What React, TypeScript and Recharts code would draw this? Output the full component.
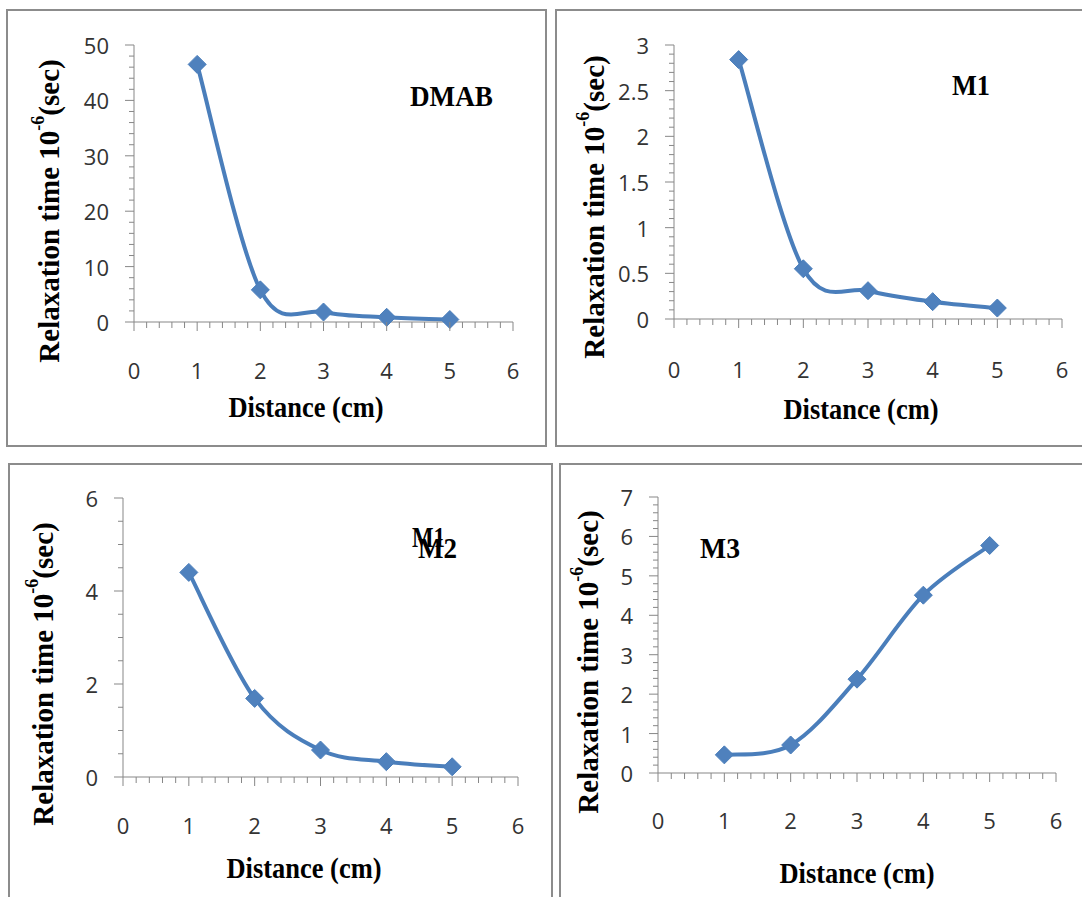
import React from 'react';
import { LineChart, Line, XAxis, YAxis } from 'recharts';

// ---- data ----
const distance = [1, 2, 3, 4, 5];
const dmabValues = [46.5, 5.8, 1.8, 0.85, 0.45];
const m1Values = [2.84, 0.55, 0.31, 0.19, 0.12];
const m2Values = [4.4, 1.69, 0.58, 0.33, 0.22];
const m3Values = [0.46, 0.71, 2.38, 4.51, 5.77];

const xTickLabels = [0, 1, 2, 3, 4, 5, 6];
const dmabTicks = [0, 10, 20, 30, 40, 50];
const m1Ticks = [0, 0.5, 1, 1.5, 2, 2.5, 3];
const m2Ticks = [0, 2, 4, 6];
const m3Ticks = [0, 1, 2, 3, 4, 5, 6, 7];

const xTitle = 'Distance (cm)';
const yTitleMain = 'Relaxation time 10';
const yTitleSup = '-6';
const yTitleEnd = '(sec)';

// ---- styles ----
const AXIS = '#878787';
const LINE = '#4A7EBB';
const MARK = '#4F81BD';
const TICK_TEXT = '#333333';
const TICK_FONT = '"Open Sans", "Liberation Sans", sans-serif';
const SERIF = '"Liberation Serif", "Times New Roman", serif';

function buildTicks(majors: number[], divisions: number): number[] {
  const out: number[] = [];
  for (let i = 0; i < majors.length - 1; i++) {
    const a = majors[i];
    const b = majors[i + 1];
    for (let k = 0; k < divisions; k++) {
      out.push(Math.round((a + ((b - a) * k) / divisions) * 10000) / 10000);
    }
  }
  out.push(majors[majors.length - 1]);
  return out;
}

// Excel-like smoothed line (cardinal / Catmull-Rom style bezier)
function excelCurve(context: any) {
  let pts: number[][] = [];
  return {
    areaStart() {},
    areaEnd() {},
    lineStart() {
      pts = [];
    },
    point(x: number, y: number) {
      pts.push([+x, +y]);
    },
    lineEnd() {
      const n = pts.length;
      if (!n) return;
      context.moveTo(pts[0][0], pts[0][1]);
      const t = 1 / 6;
      for (let i = 0; i < n - 1; i++) {
        const p0 = pts[Math.max(i - 1, 0)];
        const p1 = pts[i];
        const p2 = pts[i + 1];
        const p3 = pts[Math.min(i + 2, n - 1)];
        context.bezierCurveTo(
          p1[0] + (p2[0] - p0[0]) * t,
          p1[1] + (p2[1] - p0[1]) * t,
          p2[0] - (p3[0] - p1[0]) * t,
          p2[1] - (p3[1] - p1[1]) * t,
          p2[0],
          p2[1]
        );
      }
    },
  };
}

const renderDiamond = (props: any) => {
  const { cx, cy, index } = props;
  if (cx == null || cy == null) return <g key={`d${index}`} />;
  const h = 9;
  return (
    <path
      key={`d${index}`}
      d={`M${cx},${cy - h} L${cx + h},${cy} L${cx},${cy + h} L${cx - h},${cy} Z`}
      fill={MARK}
      stroke={LINE}
      strokeWidth={1}
    />
  );
};

const isIn = (arr: number[], v: number) => arr.some((m) => Math.abs(m - v) < 1e-6);

const makeXTick = (majors: number[], labelDy: number) => (props: any) => {
  const { x, y, payload, index } = props;
  const v = payload.value;
  const major = isIn(majors, v);
  return (
    <g key={`xt${index}`}>
      <line x1={x} y1={y} x2={x} y2={y + (major ? 9 : 6)} stroke={AXIS} strokeWidth={1} />
      {major && (
        <text x={x} y={y + labelDy} textAnchor="middle" dominantBaseline="central" fontFamily={TICK_FONT} fontSize={22} fill={TICK_TEXT}>
          {String(v)}
        </text>
      )}
    </g>
  );
};

const makeYTick = (majors: number[]) => (props: any) => {
  const { x, y, payload, index } = props;
  const v = payload.value;
  const major = isIn(majors, v);
  return (
    <g key={`yt${index}`}>
      <line x1={x} y1={y} x2={x - (major ? 9 : 5)} y2={y} stroke={AXIS} strokeWidth={1} />
      {major && (
        <text x={x - 25} y={y} textAnchor="end" dominantBaseline="central" fontFamily={TICK_FONT} fontSize={22} fill={TICK_TEXT}>
          {String(v)}
        </text>
      )}
    </g>
  );
};

type NameLabel = { text: string; x: number; y: number; w: number };
type Panel = {
  id: string;
  values: number[];
  yTicks: number[];
  yDiv: number;
  border: { left: number; top: number; width: number; height: number };
  chart: { left: number; top: number; width: number; height: number };
  plot: { left: number; right: number; top: number; bottom: number };
  yTitlePos: { x: number; y: number };
  xTitlePos: { x: number; y: number };
  names: NameLabel[];
  xLabelDy: number;
};

const panels: Panel[] = [
  {
    id: 'dmab',
    values: dmabValues,
    yTicks: dmabTicks,
    yDiv: 5,
    border: { left: 6, top: 9, width: 541, height: 438 },
    chart: { left: 6, top: 9, width: 541, height: 438 },
    plot: { left: 134, right: 513, top: 45, bottom: 322 },
    yTitlePos: { x: 49, y: 211 },
    xTitlePos: { x: 306, y: 417 },
    names: [{ text: 'DMAB', x: 410, y: 106, w: 83 }],
    xLabelDy: 48,
  },
  {
    id: 'm1',
    values: m1Values,
    yTicks: m1Ticks,
    yDiv: 5,
    border: { left: 555, top: 9, width: 600, height: 438 },
    chart: { left: 555, top: 9, width: 527, height: 438 },
    plot: { left: 674, right: 1062, top: 45, bottom: 319 },
    yTitlePos: { x: 594, y: 207 },
    xTitlePos: { x: 861, y: 419 },
    names: [{ text: 'M1', x: 952, y: 95, w: 38 }],
    xLabelDy: 50,
  },
  {
    id: 'm2',
    values: m2Values,
    yTicks: m2Ticks,
    yDiv: 4,
    border: { left: 8, top: 463, width: 545, height: 500 },
    chart: { left: 8, top: 463, width: 545, height: 434 },
    plot: { left: 123, right: 518, top: 498, bottom: 777 },
    yTitlePos: { x: 43, y: 674 },
    xTitlePos: { x: 304, y: 878 },
    names: [
      { text: 'M1', x: 412, y: 547, w: 33 },
      { text: 'M2', x: 418, y: 558, w: 39 },
    ],
    xLabelDy: 48,
  },
  {
    id: 'm3',
    values: m3Values,
    yTicks: m3Ticks,
    yDiv: 5,
    border: { left: 559, top: 463, width: 600, height: 500 },
    chart: { left: 559, top: 463, width: 523, height: 434 },
    plot: { left: 658, right: 1056, top: 497, bottom: 773 },
    yTitlePos: { x: 588, y: 662 },
    xTitlePos: { x: 857, y: 883 },
    names: [{ text: 'M3', x: 700, y: 558, w: 40 }],
    xLabelDy: 47,
  },
];

const xAllTicks = buildTicks(xTickLabels, 5);

function PanelChart({ p }: { p: Panel }) {
  const c = p.chart;
  const rows = distance.map((d, i) => ({ x: d, y: p.values[i] }));
  const yAll = buildTicks(p.yTicks, p.yDiv);
  const yMax = p.yTicks[p.yTicks.length - 1];
  const ox = c.left;
  const oy = c.top;

  const xLabel = () => (
    <g>
      <text
        x={p.xTitlePos.x - ox}
        y={p.xTitlePos.y - oy}
        textAnchor="middle"
        fontFamily={SERIF}
        fontWeight="bold"
        fontSize={29}
        fill="#000"
        textLength={155}
        lengthAdjust="spacingAndGlyphs"
      >
        {xTitle}
      </text>
      {p.names.map((n) => (
        <text
          key={n.text}
          x={n.x - ox}
          y={n.y - oy}
          fontFamily={SERIF}
          fontWeight="bold"
          fontSize={29}
          fill="#000"
          textLength={n.w}
          lengthAdjust="spacingAndGlyphs"
        >
          {n.text}
        </text>
      ))}
    </g>
  );

  const yLabel = () => (
    <text
      transform={`translate(${p.yTitlePos.x - ox},${p.yTitlePos.y - oy}) rotate(-90)`}
      textAnchor="middle"
      dominantBaseline="central"
      fontFamily={SERIF}
      fontWeight="bold"
      fontSize={29}
      fill="#000"
    >
      {yTitleMain}
      <tspan fontSize={18} dy={-11}>
        {yTitleSup}
      </tspan>
      <tspan dy={11}>{yTitleEnd}</tspan>
    </text>
  );

  return (
    <div style={{ position: 'absolute', left: c.left, top: c.top }}>
      <LineChart
        width={c.width}
        height={c.height}
        data={rows}
        margin={{ top: p.plot.top - oy, right: ox + c.width - p.plot.right, bottom: 0, left: 0 }}
      >
        <XAxis
          dataKey="x"
          type="number"
          domain={[0, 6]}
          ticks={xAllTicks}
          interval={0}
          tickLine={false}
          tickSize={0}
          tickMargin={0}
          axisLine={{ stroke: AXIS, strokeWidth: 1 }}
          tick={makeXTick(xTickLabels, p.xLabelDy)}
          height={oy + c.height - p.plot.bottom}
          label={xLabel}
        />
        <YAxis
          type="number"
          domain={[0, yMax]}
          ticks={yAll}
          interval={0}
          tickLine={false}
          tickSize={0}
          tickMargin={0}
          axisLine={{ stroke: AXIS, strokeWidth: 1 }}
          tick={makeYTick(p.yTicks)}
          width={p.plot.left - ox}
          label={yLabel}
        />
        <Line
          dataKey="y"
          type={excelCurve as any}
          stroke={LINE}
          strokeWidth={4}
          dot={renderDiamond}
          activeDot={false}
          isAnimationActive={false}
        />
      </LineChart>
    </div>
  );
}

export default function App() {
  return (
    <div
      style={{
        position: 'absolute',
        left: 0,
        top: 0,
        width: 1082,
        height: 897,
        overflow: 'hidden',
        background: '#fff',
      }}
    >
      {panels.map((p) => (
        <div
          key={`b${p.id}`}
          style={{
            position: 'absolute',
            left: p.border.left,
            top: p.border.top,
            width: p.border.width,
            height: p.border.height,
            border: '2px solid #8c8c8c',
            boxSizing: 'border-box',
          }}
        />
      ))}
      {panels.map((p) => (
        <PanelChart key={p.id} p={p} />
      ))}
    </div>
  );
}
